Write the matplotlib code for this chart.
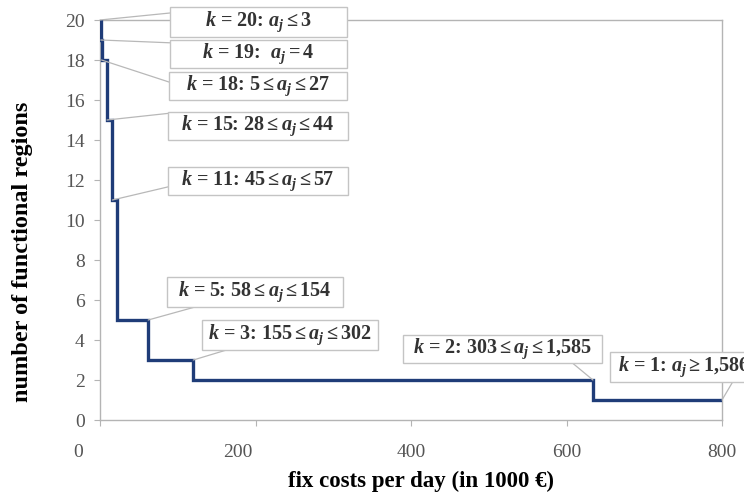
import numpy as np
import matplotlib.pyplot as plt
from matplotlib.patches import Rectangle
from matplotlib.transforms import ScaledTranslation

# step curve: fix costs (in 1000 EUR) where each level starts, number of regions
cost_start = [0, 1, 2, 9, 16, 22, 62, 120, 634, 800]
regions = [20, 19, 18, 15, 11, 5, 3, 2, 1, 1]

labels = [
    r"$k$ = 20: $a_j \leq 3$",
    r"$k$ = 19:  $a_j = 4$",
    r"$k$ = 18: $5 \leq a_j \leq 27$",
    r"$k$ = 15: $28 \leq a_j \leq 44$",
    r"$k$ = 11: $45 \leq a_j \leq 57$",
    r"$k$ = 5: $58 \leq a_j \leq 154$",
    r"$k$ = 3: $155 \leq a_j \leq 302$",
    r"$k$ = 2: $303 \leq a_j \leq 1{,}585$",
    r"$k$ = 1: $a_j \geq 1{,}586$",
]
# point on the curve each label refers to
label_x = [0, 1, 2, 9, 16, 62, 120, 634, 800]
label_y = [20, 19, 18, 15, 11, 5, 3, 2, 1]

# label box layout in data coords (x0, x1, y0, y1) and leader attach point (fraction of box)
boxes = [(90, 318, 19.15, 20.65), (90, 318, 17.6, 19.0), (89, 318, 16.0, 17.4),
         (87.5, 319, 14.0, 15.4), (87.5, 319, 11.25, 12.65), (86, 312.5, 5.65, 7.15),
         (131, 357.5, 3.5, 5.0), (390, 646, 2.85, 4.25), (656, 875, 1.9, 3.4)]
attach = [(0, 0.8), (0, 0.9), (0, 0.64), (0, 0.95), (0, 0.29),
          (0.16, 0), (0.14, 0), (0.85, 0), (0.72, 0)]

plt.rcParams['font.family'] = ['Liberation Serif', 'DejaVu Serif']
plt.rcParams['mathtext.fontset'] = 'custom'
plt.rcParams['mathtext.rm'] = 'Liberation Serif:bold'
plt.rcParams['mathtext.it'] = 'Liberation Serif:bold:italic'
plt.rcParams['mathtext.bf'] = 'Liberation Serif:bold'

fig = plt.figure(figsize=(7.44, 4.98), dpi=100)
ax = fig.add_axes([100 / 744, 78 / 498, 622 / 744, 400 / 498])

ax.plot(cost_start, regions, drawstyle='steps-post', color='#1f3c78', lw=2.4,
        solid_joinstyle='miter', zorder=3)

ax.set_xlim(0, 800)
ax.set_ylim(0, 20)
ax.set_xticks(np.arange(0, 801, 200))
ax.set_yticks(np.arange(0, 21, 2))
for s in ax.spines.values():
    s.set_color('#b4b4b4')
    s.set_linewidth(1.0)
ax.tick_params(axis='both', colors='#b4b4b4', labelcolor='#555555',
               labelsize=14, length=4, direction='out')
ax.tick_params(axis='x', pad=13)
ax.tick_params(axis='y', pad=7)

# the first two x labels sit a bit left of their ticks in the original
for lbl, dx in zip(ax.get_xticklabels()[:2], [-22, -18]):
    lbl.set_transform(lbl.get_transform() + ScaledTranslation(dx / 100, 0, fig.dpi_scale_trans))

ax.set_xlabel('fix costs per day (in 1000 €)', fontsize=16.5, fontweight='bold')
ax.xaxis.set_label_coords(0.516, -0.128)
ax.set_ylabel('number of functional regions', fontsize=17.5, fontweight='bold')
ax.yaxis.set_label_coords(-0.108, 0.42)

for i, lab in enumerate(labels):
    x0, x1, y0, y1 = boxes[i]
    ax_ = x0 + attach[i][0] * (x1 - x0)
    ay_ = y0 + attach[i][1] * (y1 - y0)
    ax.annotate('', xy=(label_x[i], label_y[i]), xytext=(ax_, ay_),
                annotation_clip=False,
                arrowprops=dict(arrowstyle='-', color='#b8b8b8', lw=0.9,
                                shrinkA=0, shrinkB=0), zorder=4)
    ax.add_patch(Rectangle((x0, y0), x1 - x0, y1 - y0, fc='white', ec='#c4c4c4',
                           lw=1.0, clip_on=False, zorder=5))
    if i == len(labels) - 1:
        # last box runs off the right edge, text starts near its left side
        ax.text(x0 + 10, (y0 + y1) / 2, lab, ha='left', va='center',
                fontsize=14.5, fontweight='bold', color='#333333', clip_on=False, zorder=6)
    else:
        ax.text((x0 + x1) / 2, (y0 + y1) / 2, lab, ha='center', va='center',
                fontsize=14.5, fontweight='bold', color='#333333', clip_on=False, zorder=6)

fig.savefig('out.png', dpi=100)
